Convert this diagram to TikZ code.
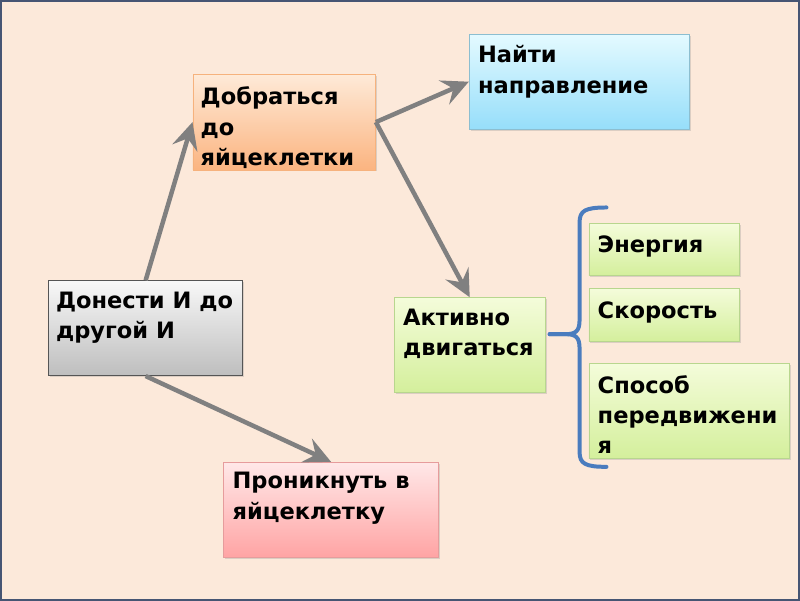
\documentclass[tikz,border=0pt]{standalone}
\usepackage{fontspec}
\setmainfont{DejaVu Sans}
\usetikzlibrary{arrows.meta,shadows}
\definecolor{bgc}{RGB}{252,233,218}
\definecolor{framec}{RGB}{70,85,115}
\definecolor{arrc}{RGB}{128,128,128}
\definecolor{bracec}{RGB}{74,124,190}
\tikzset{
  box/.style={draw, line width=0.8pt, inner sep=0pt, anchor=north west,
    drop shadow={shadow xshift=1.5pt, shadow yshift=-1.5pt, opacity=0.25}},
  graybox/.style={box, draw={rgb,255:red,85;green,85;blue,85}, line width=1pt, top color={rgb,255:red,248;green,248;blue,248}, bottom color={rgb,255:red,190;green,190;blue,190}},
  orangebox/.style={box, draw={rgb,255:red,246;green,178;blue,125}, top color={rgb,255:red,254;green,234;blue,216}, bottom color={rgb,255:red,251;green,180;blue,128}},
  bluebox/.style={box, draw={rgb,255:red,140;green,190;blue,208}, top color={rgb,255:red,228;green,250;blue,255}, bottom color={rgb,255:red,150;green,222;blue,250}},
  greenbox/.style={box, draw={rgb,255:red,184;green,214;blue,142}, top color={rgb,255:red,244;green,252;blue,218}, bottom color={rgb,255:red,212;green,239;blue,156}},
  pinkbox/.style={box, draw={rgb,255:red,230;green,156;blue,156}, top color={rgb,255:red,255;green,232;blue,232}, bottom color={rgb,255:red,255;green,164;blue,164}},
  txt/.style={inner sep=0pt, anchor=base west, font=\bfseries\fontsize{22.6}{30.5}\selectfont},
  conn/.style={draw=arrc, line width=4.5pt, -{Stealth[length=27pt, width=26pt, inset=10pt]}},
}
\newcommand{\boxtext}[1]{\parbox[t]{300pt}{#1}}
\begin{document}
\begin{tikzpicture}[x=1pt,y=-1pt]
\path[fill=bgc, draw=framec, line width=2pt] (0,0) rectangle (800,600);
\useasboundingbox (0,0) rectangle (800,600);

\node[graybox, minimum width=195pt, minimum height=95pt] (don) at (47,280) {};
\node[txt, xshift=8pt, yshift=-28pt] (donT) at (don.north west) {\boxtext{Донести И до\\другой И}};

\node[orangebox, minimum width=183pt, minimum height=96pt] (dob) at (192,73) {};
\node[txt, xshift=8pt, yshift=-31pt] (dobT) at (dob.north west) {\boxtext{Добраться\\до\\яйцеклетки}};

\node[bluebox, minimum width=221pt, minimum height=95pt] (nai) at (469,33) {};
\node[txt, xshift=9pt, yshift=-29pt] (naiT) at (nai.north west) {\boxtext{Найти\\направление}};

\node[greenbox, minimum width=151pt, minimum height=95pt] (akt) at (394,297) {};
\node[txt, xshift=9pt, yshift=-28pt] (aktT) at (akt.north west) {\boxtext{Активно\\двигаться}};

\node[greenbox, minimum width=151pt, minimum height=52pt] (ene) at (589,223) {};
\node[txt, xshift=9pt, yshift=-29pt] (eneT) at (ene.north west) {\boxtext{Энергия}};

\node[greenbox, minimum width=151pt, minimum height=53pt] (sko) at (589,288) {};
\node[txt, xshift=9pt, yshift=-30pt] (skoT) at (sko.north west) {\boxtext{Скорость}};

\node[greenbox, minimum width=201pt, minimum height=95pt] (spo) at (589,363) {};
\node[txt, xshift=9pt, yshift=-30pt] (spoT) at (spo.north west) {\boxtext{Способ\\передвижени\\я}};

\node[pinkbox, minimum width=215pt, minimum height=95pt] (pro) at (223,462) {};
\node[txt, xshift=9pt, yshift=-27pt] (proT) at (pro.north west) {\boxtext{Проникнуть в\\яйцеклетку}};

\draw[conn] (don.north) -- (dob.west);
\draw[conn] (dob.east) -- (nai.west);
\draw[conn] (dob.east) -- (akt.north);
\draw[conn] (don.south) -- (pro.north);

\coordinate (bTop) at (607,207);
\coordinate (bTip) at (550,334);
\coordinate (bBot) at (607,467);
\draw[bracec, line width=4pt, line cap=round, line join=round]
  (bTop) .. controls (586,207) and (580,210) .. (580,222)
  -- (580,320) .. controls (580,331) and (576,334) .. (566,334)
  -- (bTip);
\draw[bracec, line width=4pt, line cap=round, line join=round]
  (bTip) -- (566,334) .. controls (576,334) and (580,337) .. (580,348)
  -- (580,452) .. controls (580,464) and (586,467) .. (bBot);
\end{tikzpicture}
\end{document}
